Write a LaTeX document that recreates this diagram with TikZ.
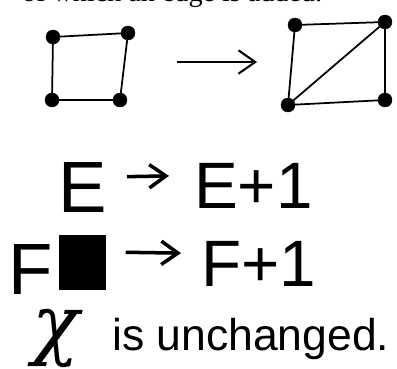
\documentclass[tikz,border=0pt]{standalone}
\usepackage{fontspec}
\setmainfont{Liberation Serif}
\newfontfamily\handfont{Liberation Sans}
\newfontfamily\greekfont{DejaVu Serif}
\usetikzlibrary{arrows.meta}

\begin{document}
\begin{tikzpicture}[x=0.03cm,y=-0.03cm,
  vtx/.style={draw, circle, fill=black, inner sep=0pt, minimum size=0.42cm},
  edge/.style={line width=1.5pt},
  hand/.style={font=\handfont\fontsize{56}{56}\selectfont, inner sep=0pt},
  barb/.style={-{Straight Barb[length=0.5cm,width=0.7cm]}, line width=3pt}]
\useasboundingbox (0,0) rectangle (397,369);
% caption line, cut off at the top
\node[anchor=base west, inner sep=0pt, font=\fontsize{24}{24}\selectfont] (cap) at (22,2) {of which an edge is added.};
% square before
\node[vtx] (a1) at (53,37) {};
\node[vtx] (a2) at (128,33) {};
\node[vtx] (a3) at (52,100) {};
\node[vtx] (a4) at (120,100) {};
\draw[edge] (a1) -- (a2) -- (a4) -- (a3) -- (a1);
% arrow between
\coordinate (p) at (177,62);
\coordinate (q) at (257,62);
\draw[barb, line width=1.8pt] (p) -- (q);
% square after
\node[vtx] (b1) at (295,25) {};
\node[vtx] (b2) at (385,22) {};
\node[vtx] (b3) at (288,105) {};
\node[vtx] (b4) at (385,100) {};
\draw[edge] (b1) -- (b2) -- (b4) -- (b3) -- (b1);
\draw[edge] (b2) -- (b3);
% edges
\node[hand, anchor=base west, font=\handfont\fontsize{62}{62}\selectfont] (e0) at (58,212) {E};
\node[hand, anchor=base west] (e1) at (194,208) {E+1};
\draw[barb, shorten <=0.6cm, shorten >=0.75cm] ([yshift=0.3cm]e0.east) -- ([yshift=0.3cm]e1.west);
% faces
\node[hand, anchor=base west, font=\handfont\fontsize{62}{62}\selectfont] (f0) at (8,294) {F};
\node[fill=black, minimum width=1.41cm, minimum height=1.65cm, inner sep=0pt] (bx) at (82,262) {};
\node[hand, anchor=base west] (f1) at (201,286) {F+1};
\draw[barb, shorten <=0.6cm, shorten >=0.6cm] ([yshift=0.3cm]bx.east) -- ([yshift=0.3cm]f1.west);
% euler characteristic
\node[anchor=base west, inner sep=0pt, font=\greekfont\itshape\fontsize{66}{66}\selectfont] (chi) at (32,350) {χ};
\node[hand, anchor=base west, font=\handfont\fontsize{38}{38}\selectfont] (unch) at (112,350) {is unchanged.};
\end{tikzpicture}
\end{document}
